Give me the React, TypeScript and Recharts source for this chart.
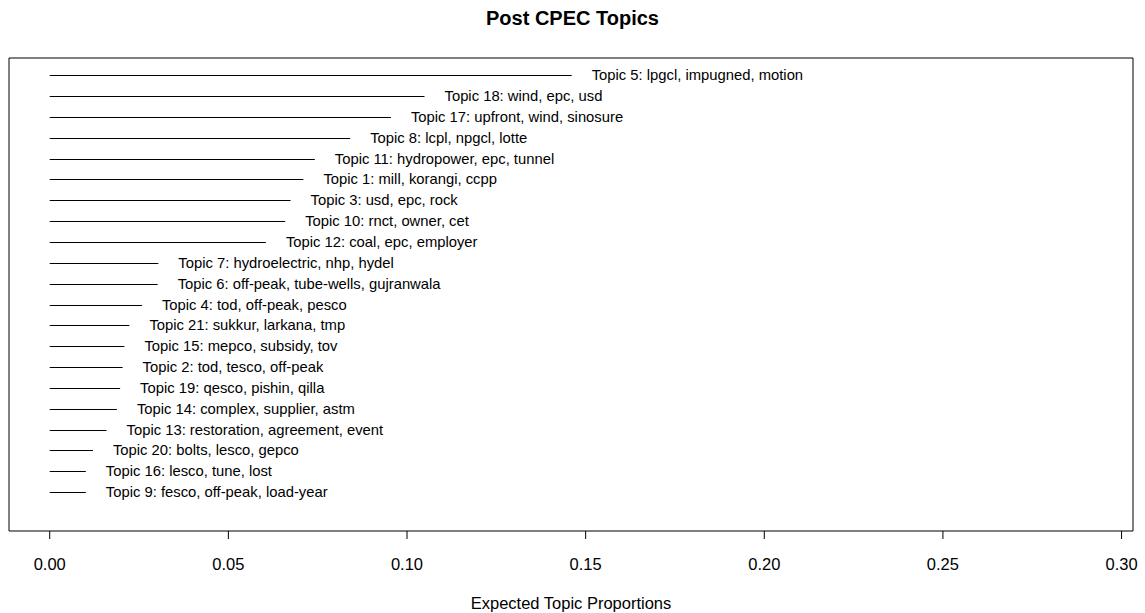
import React from 'react';
import {
  ComposedChart,
  Bar,
  XAxis,
  YAxis,
  ReferenceArea,
  LabelList,
} from 'recharts';

// topics listed top to bottom, as in the picture
const topicLabels = [
  'Topic 5: lpgcl, impugned, motion',
  'Topic 18: wind, epc, usd',
  'Topic 17: upfront, wind, sinosure',
  'Topic 8: lcpl, npgcl, lotte',
  'Topic 11: hydropower, epc, tunnel',
  'Topic 1: mill, korangi, ccpp',
  'Topic 3: usd, epc, rock',
  'Topic 10: rnct, owner, cet',
  'Topic 12: coal, epc, employer',
  'Topic 7: hydroelectric, nhp, hydel',
  'Topic 6: off-peak, tube-wells, gujranwala',
  'Topic 4: tod, off-peak, pesco',
  'Topic 21: sukkur, larkana, tmp',
  'Topic 15: mepco, subsidy, tov',
  'Topic 2: tod, tesco, off-peak',
  'Topic 19: qesco, pishin, qilla',
  'Topic 14: complex, supplier, astm',
  'Topic 13: restoration, agreement, event',
  'Topic 20: bolts, lesco, gepco',
  'Topic 16: lesco, tune, lost',
  'Topic 9: fesco, off-peak, load-year',
];

const proportions = [
  0.1461, 0.1049, 0.0955, 0.0841, 0.0742, 0.071, 0.0674, 0.0659, 0.0605,
  0.0304, 0.0302, 0.0258, 0.0223, 0.0209, 0.0204, 0.0197, 0.0188, 0.0159,
  0.0121, 0.0101, 0.0101,
];

const xTicks = [0, 0.05, 0.1, 0.15, 0.2, 0.25, 0.3];

const X_DOMAIN: [number, number] = [-0.0114, 0.3032];
const Y_DOMAIN: [number, number] = [0.16, 22.84];

const data = topicLabels.map((label, i) => ({
  label,
  value: proportions[i],
  rank: i + 1,
}));

const FONT = '"Liberation Sans", Arial, sans-serif';

const LineShape = (props: any) => {
  const { x, y, width, height } = props;
  const cy = Math.round(y + height / 2) + 0.5;
  return <line x1={x} x2={x + width} y1={cy} y2={cy} stroke="#000" strokeWidth={1} />;
};

const TopicLabel = (props: any) => {
  const { x, y, width, height, value } = props;
  return (
    <text
      x={x + width + 20}
      y={y + height / 2}
      dominantBaseline="central"
      fontSize={14.8}
      fontFamily={FONT}
      fill="#000"
    >
      {value}
    </text>
  );
};

export default function App() {
  return (
    <div
      style={{
        position: 'absolute',
        left: 0,
        top: 0,
        width: 1145,
        height: 613,
        background: '#fff',
        fontFamily: FONT,
      }}
    >
      <div
        style={{
          position: 'absolute',
          top: 5,
          width: 1145,
          textAlign: 'center',
          fontWeight: 'bold',
          fontSize: 20,
          lineHeight: '26px',
          paddingLeft: 0,
        }}
      >
        Post CPEC Topics
      </div>
      <ComposedChart
        width={1145}
        height={613}
        data={data}
        layout="vertical"
        margin={{ top: 58, right: 12, bottom: 0, left: 9 }}
      >
        <XAxis
          type="number"
          dataKey="value"
          domain={X_DOMAIN}
          ticks={xTicks}
          allowDataOverflow
          axisLine={false}
          tickLine={{ stroke: '#000' }}
          tickSize={8}
          tickMargin={19}
          tickFormatter={(v: number) => v.toFixed(2)}
          tick={{ fontSize: 16.5, fill: '#000', fontFamily: FONT }}
          label={{
            value: 'Expected Topic Proportions',
            position: 'insideBottom',
            offset: 4,
            fontSize: 16.5,
            fill: '#000',
            fontFamily: FONT,
          }}
          height={82}
        />
        <YAxis type="number" dataKey="rank" domain={Y_DOMAIN} allowDataOverflow hide />
        <ReferenceArea
          x1={X_DOMAIN[0]}
          x2={X_DOMAIN[1]}
          y1={Y_DOMAIN[0]}
          y2={Y_DOMAIN[1]}
          fill="none"
          stroke="#000"
          strokeWidth={1}
          ifOverflow="visible"
        />
        <Bar dataKey="value" barSize={2} shape={LineShape} isAnimationActive={false}>
          <LabelList dataKey="label" content={TopicLabel} />
        </Bar>
      </ComposedChart>
    </div>
  );
}
